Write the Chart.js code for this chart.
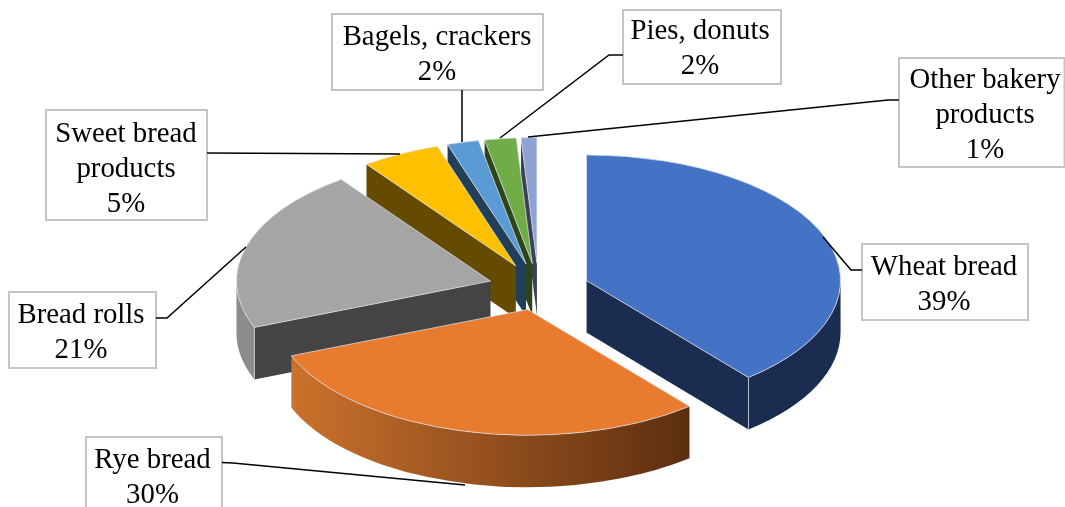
<!DOCTYPE html>
<html>
<head>
<meta charset="utf-8">
<style>html,body{margin:0;padding:0;background:#fff;overflow:hidden}canvas{display:block}</style>
<script src="https://cdn.jsdelivr.net/npm/chart.js@4"></script>
</head>
<body>
<canvas id="c" width="1065" height="507"></canvas>
<script>
const categories = ['Wheat bread','Rye bread','Bread rolls','Sweet bread products','Bagels, crackers','Pies, donuts','Other bakery products'];
const shares = [39,30,21,5,2,2,1];
const topColors = ['#4472C4','#E97B2F','#A5A5A5','#FFC000','#5B9BD5','#70AD47','#8FA2D4'];
const faceColors = ['#1A2C50','#7A3F15','#444444','#654B00','#223F59','#2C451B','#3A4258'];
const wallColors = ['#1A2C50',null,'#8C8C8C','#654B00','#223F59','#2C451B','#3A4258'];
const rimColor = '#DDE1E8';
const ryeWallStops = ['#CB722C','#5C2E0F'];
const labelLines = [['Wheat bread'],['Rye bread'],['Bread rolls'],['Sweet bread','products'],['Bagels, crackers'],['Pies, donuts'],['Other bakery','products']];

// geometry of the tilted view
const centre = {x:538.5, y:288}, tilt = 0.495, explode = 50, depth = 52, radius = 254;
const sliceNudge = [[1,1],[1.5,-2.5],[0,0],[0,0],[0,0],[0,0],[0,0]];

// callout boxes: [left, top, right, bottom, textCentreX, firstBaseline, leader points]
const callouts = [
 {box:[862,244,1028,320], cx:944, base:275, leader:[[862,270],[851,270],[823,237]]},
 {box:[86,437,222,520],   cx:152.5, base:468, leader:[[222,462.5],[233,463],[465,485]]},
 {box:[9,292,156,368],    cx:81,  base:323, leader:[[156,318],[167,318],[246,247]]},
 {box:[46,110,207,220],   cx:126, base:142, leader:[[207,153],[400,154]]},
 {box:[332,14,543,90],    cx:437, base:45,  leader:[[462,90],[462,142]]},
 {box:[623,10,781,84],    cx:700, base:39,  leader:[[623,55],[609,55],[500,138]]},
 {box:[899,58,1064.5,167], cx:985, base:88,  leader:[[899,100],[888,100],[528,137]]}
];
const lineStep = 35, fontSpec = '28.8px "Liberation Serif"';

const tiltPlugin = {
  id:'tilt',
  beforeDatasetsDraw(chart){
    const ctx = chart.ctx, arcs = chart.getDatasetMeta(0).data;
    const enter = (a,i)=>{
      const mid = (a.startAngle+a.endAngle)/2;
      ctx.translate(centre.x+sliceNudge[i][0], centre.y+sliceNudge[i][1]);
      ctx.scale(1, tilt);
      ctx.translate(explode*Math.cos(mid)-a.x, explode*Math.sin(mid)-a.y);
    };
    const D = depth/tilt;
    // walls: back slices first, front slices last
    [6,5,4,3,2,0,1].forEach(i=>{
      const a = arcs[i], r = a.outerRadius;
      ctx.save(); enter(a,i);
      const edge = (ang)=>{
        ctx.beginPath();
        ctx.moveTo(a.x,a.y);
        ctx.lineTo(a.x+r*Math.cos(ang),a.y+r*Math.sin(ang));
        ctx.lineTo(a.x+r*Math.cos(ang),a.y+r*Math.sin(ang)+D);
        ctx.lineTo(a.x,a.y+D);
        ctx.closePath();
        ctx.fillStyle = faceColors[i];
        ctx.fill();
      };
      if (Math.sin(a.startAngle-Math.PI/2)>0.001) edge(a.startAngle);
      if (Math.sin(a.endAngle+Math.PI/2)>0.001) edge(a.endAngle);
      // outer rim: only the part facing the viewer
      const TAU = Math.PI*2;
      let s = a.startAngle, e = a.endAngle;
      const ranges = [[Math.max(s,0),Math.min(e,Math.PI)],[Math.max(s,TAU),Math.min(e,TAU+Math.PI)]];
      ranges.forEach(([p,q])=>{
        if (q<=p) return;
        ctx.beginPath();
        ctx.arc(a.x,a.y,r,p,q);
        ctx.arc(a.x,a.y+D,r,q,p,true);
        ctx.closePath();
        if (wallColors[i]) ctx.fillStyle = wallColors[i];
        else {
          const g = ctx.createLinearGradient(a.x+r*Math.cos(q),0,a.x+r*Math.cos(p),0);
          g.addColorStop(0,ryeWallStops[0]); g.addColorStop(1,ryeWallStops[1]);
          ctx.fillStyle = g;
        }
        ctx.fill();
      });
      // light vertical edge where a visible face meets the rim
      [a.startAngle,a.endAngle].forEach(ang=>{
        if (Math.sin(ang)>0.3 && i!==1){
          ctx.beginPath();
          ctx.moveTo(a.x+r*Math.cos(ang),a.y+r*Math.sin(ang));
          ctx.lineTo(a.x+r*Math.cos(ang),a.y+r*Math.sin(ang)+D);
          ctx.strokeStyle = rimColor; ctx.lineWidth = 1; ctx.stroke();
        }
      });
      ctx.restore();
    });
    // top faces, drawn by the library's own arc elements
    [6,5,4,3,0,2,1].forEach(i=>{
      ctx.save(); enter(arcs[i],i); arcs[i].draw(ctx); ctx.restore();
    });
    return false;
  },
  afterDraw(chart){
    const ctx = chart.ctx;
    ctx.save();
    callouts.forEach((c,i)=>{
      const [l,t,r,b] = c.box;
      ctx.fillStyle='#fff'; ctx.fillRect(l,t,r-l,b-t);
      ctx.strokeStyle='#C4C4C4'; ctx.lineWidth=2; ctx.strokeRect(l,t,r-l,b-t);
      ctx.beginPath();
      c.leader.forEach((p,k)=> k?ctx.lineTo(p[0],p[1]):ctx.moveTo(p[0],p[1]));
      ctx.strokeStyle='#000'; ctx.lineWidth=1.5; ctx.stroke();
      ctx.fillStyle='#000'; ctx.font=fontSpec; ctx.textAlign='center'; ctx.textBaseline='alphabetic';
      const lines = labelLines[i].concat(chart.data.datasets[0].data[i]+'%');
      lines.forEach((s,k)=>ctx.fillText(s,c.cx,c.base+k*lineStep));
    });
    ctx.restore();
  }
};

new Chart(document.getElementById('c'),{
  type:'pie',
  data:{labels:categories,datasets:[{data:shares,backgroundColor:topColors,borderColor:rimColor,borderWidth:1,hoverOffset:0,radius:radius}]},
  options:{responsive:false,animation:false,events:[],plugins:{legend:{display:false},tooltip:{enabled:false}}},
  plugins:[tiltPlugin]
});
</script>
</body>
</html>
